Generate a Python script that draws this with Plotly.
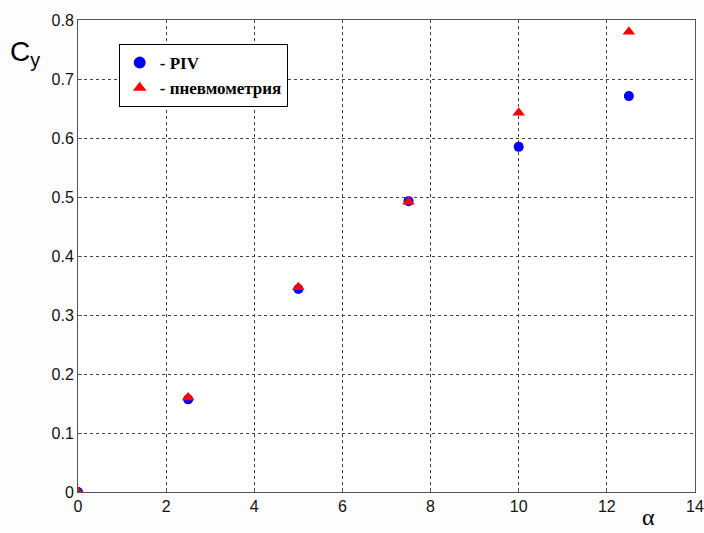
import plotly.graph_objects as go

# Angle of attack (deg) and lift coefficient from two measurement methods
alpha = [0, 2.5, 5, 7.5, 10, 12.5]
cy_piv = [0.0, 0.157, 0.344, 0.493, 0.585, 0.671]
cy_pneumo = [0.0, 0.160, 0.347, 0.492, 0.643, 0.780]

x_ticks = [0, 2, 4, 6, 8, 10, 12, 14]
y_ticks = [0, 0.1, 0.2, 0.3, 0.4, 0.5, 0.6, 0.7, 0.8]

fig = go.Figure()
fig.add_trace(go.Scatter(
    x=alpha, y=cy_piv, mode="markers", name="- PIV",
    marker=dict(symbol="circle", size=10, color="#0000ff"),
))
fig.add_trace(go.Scatter(
    x=alpha, y=cy_pneumo, mode="markers", name="- пневмометрия",
    marker=dict(symbol="triangle-up", size=11, color="#ff0000"),
))

axis_common = dict(
    showline=True, linecolor="#555555", linewidth=1, mirror=True,
    showgrid=True, gridcolor="#444444", griddash="dot", gridwidth=1,
    zeroline=False, ticks="inside", ticklen=4, tickcolor="#555555",
    automargin=False,
    tickfont=dict(family="Arial, Liberation Sans", size=16, color="#111111"),
)

fig.update_xaxes(range=[0, 14], tickvals=x_ticks, ticktext=[str(v) for v in x_ticks], **axis_common)
fig.update_yaxes(range=[0, 0.8], tickvals=y_ticks,
                 ticktext=["0"] + [f"{v:.1f}" for v in y_ticks[1:]], **axis_common)

fig.add_annotation(
    text="C<sub>y</sub>", xref="paper", yref="paper", x=-0.086, y=0.93,
    xanchor="center", yanchor="middle", showarrow=False,
    font=dict(family="Arial, Liberation Sans", size=28, color="#000000"),
)
fig.add_annotation(
    text="α", xref="paper", yref="paper", x=0.924, y=-0.084,
    xanchor="center", yanchor="bottom", showarrow=False,
    font=dict(family="Liberation Serif, Times New Roman", size=24, color="#000000"),
)

fig.update_layout(
    width=704, height=533,
    margin=dict(l=78, r=9, t=20, b=41),
    paper_bgcolor="#fdfdfd", plot_bgcolor="#ffffff",
    showlegend=True,
    legend=dict(
        x=0.066, y=0.949, xanchor="left", yanchor="top",
        bgcolor="#ffffff", bordercolor="#000000", borderwidth=1,
        font=dict(family="Liberation Serif, Times New Roman", size=17, color="#000000", weight="bold"),
        itemsizing="constant", tracegroupgap=0, itemwidth=30,
    ),
)

fig.write_html("out.html")
